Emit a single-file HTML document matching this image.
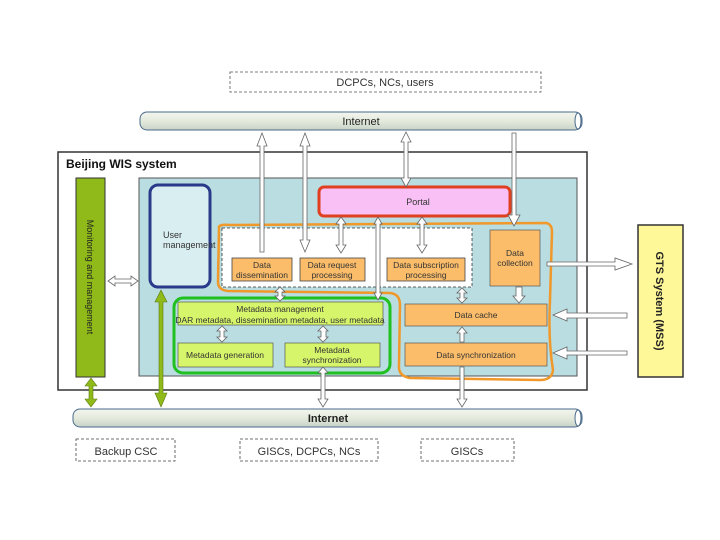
<!DOCTYPE html>
<html><head><meta charset="utf-8"><style>
html,body{margin:0;padding:0;background:#fff;}
svg{display:block;font-family:"Liberation Sans",sans-serif;}
</style></head><body>
<svg width="720" height="540" viewBox="0 0 720 540" xmlns="http://www.w3.org/2000/svg">
<defs>
<linearGradient id="tube" x1="0" y1="0" x2="0" y2="1">
<stop offset="0" stop-color="#f4f6f0"/><stop offset="0.5" stop-color="#e4eadc"/><stop offset="1" stop-color="#c8d2c8"/>
</linearGradient>
</defs>
<!-- top dashed box -->
<rect x="230" y="72" width="311" height="20" fill="#fff" stroke="#555" stroke-dasharray="3,2" stroke-width="0.8"/>
<text x="385" y="86" font-size="11" text-anchor="middle" fill="#333">DCPCs, NCs, users</text>
<!-- top internet -->
<rect x="140" y="112" width="442" height="18" rx="7" fill="url(#tube)" stroke="#4a6a8a" stroke-width="1"/>
<ellipse cx="578" cy="121" rx="3" ry="8" fill="#fff" stroke="#4a6a8a"/>
<text x="361" y="125" font-size="11" text-anchor="middle" fill="#222">Internet</text>
<!-- outer box -->
<rect x="58" y="152" width="529" height="238" fill="#fff" stroke="#333" stroke-width="1.5"/>
<text x="66" y="168" font-size="12" font-weight="bold" fill="#111">Beijing WIS system</text>
<!-- light blue -->
<rect x="139" y="178" width="438" height="198" fill="#b9dde0" stroke="#555" stroke-width="1"/>
<!-- green bar -->
<rect x="76" y="178" width="29" height="199" fill="#8fba1a" stroke="#333" stroke-width="1"/>
<text transform="translate(87,277) rotate(90)" font-size="9" text-anchor="middle" fill="#222">Monitoring and management</text>
<!-- user management -->
<rect x="150" y="185" width="60" height="102" rx="8" fill="#d8eef0" stroke="#2a3a8a" stroke-width="3"/>
<text x="163" y="238" font-size="9" fill="#333">User</text>
<text x="163" y="248" font-size="9" fill="#333">management</text>
<!-- dashed white box -->
<rect x="222" y="228" width="250" height="59" fill="#fff" stroke="#333" stroke-dasharray="3,2" stroke-width="0.8"/>
<!-- portal -->
<rect x="319" y="187" width="191" height="29" rx="5" fill="#f8c0f4" stroke="#e04020" stroke-width="3"/>
<text x="418" y="205" font-size="9" text-anchor="middle" fill="#333">Portal</text>
<!-- sub boxes -->
<rect x="232" y="258" width="60" height="23" fill="#fbbd6a" stroke="#444" stroke-width="0.8"/>
<text x="262" y="268" font-size="8.5" text-anchor="middle" fill="#333">Data</text>
<text x="262" y="278" font-size="8.5" text-anchor="middle" fill="#333">dissemination</text>
<rect x="300" y="258" width="65" height="23" fill="#fbbd6a" stroke="#444" stroke-width="0.8"/>
<text x="332" y="268" font-size="8.5" text-anchor="middle" fill="#333">Data request</text>
<text x="332" y="278" font-size="8.5" text-anchor="middle" fill="#333">processing</text>
<rect x="387" y="258" width="78" height="23" fill="#fbbd6a" stroke="#444" stroke-width="0.8"/>
<text x="426" y="268" font-size="8.5" text-anchor="middle" fill="#333">Data subscription</text>
<text x="426" y="278" font-size="8.5" text-anchor="middle" fill="#333">processing</text>
<rect x="490" y="230" width="50" height="56" fill="#fbbd6a" stroke="#444" stroke-width="0.6"/>
<text x="515" y="256" font-size="8.5" text-anchor="middle" fill="#333">Data</text>
<text x="515" y="266" font-size="8.5" text-anchor="middle" fill="#333">collection</text>
<!-- data cache / sync -->
<rect x="405" y="304" width="142" height="22" fill="#fbbd6a" stroke="#444" stroke-width="0.6"/>
<text x="476" y="318" font-size="8.5" text-anchor="middle" fill="#333">Data cache</text>
<rect x="405" y="343" width="142" height="23" fill="#fbbd6a" stroke="#444" stroke-width="0.6"/>
<text x="476" y="358" font-size="8.5" text-anchor="middle" fill="#333">Data synchronization</text>
<!-- green group -->
<rect x="174" y="298" width="216" height="75" rx="9" fill="none" stroke="#20c020" stroke-width="3"/>
<rect x="178" y="302" width="205" height="23" fill="#d6f56a" stroke="#444" stroke-width="0.6"/>
<text x="280" y="312" font-size="8.5" text-anchor="middle" fill="#333">Metadata management</text>
<text x="280" y="323" font-size="8.5" text-anchor="middle" fill="#333">DAR metadata, dissemination metadata, user metadata</text>
<rect x="178" y="343" width="95" height="24" fill="#d6f56a" stroke="#444" stroke-width="0.6"/>
<text x="225" y="358" font-size="8.5" text-anchor="middle" fill="#333">Metadata generation</text>
<rect x="285" y="343" width="95" height="24" fill="#d6f56a" stroke="#444" stroke-width="0.6"/>
<text x="332" y="353" font-size="8.5" text-anchor="middle" fill="#333">Metadata</text>
<text x="332" y="363" font-size="8.5" text-anchor="middle" fill="#333">synchronization</text>
<!-- orange outline -->
<path d="M219 228 Q218 224 230 225 L546 223 Q552 224 552 232 L550 300 Q548 340 553 370 Q552 380 540 380 L410 378 Q398 376 399 365 L400 305 Q400 294 390 293 L228 291 Q218 290 218 282 Z" fill="none" stroke="#f0982a" stroke-width="2.5"/>
<!-- GTS -->
<rect x="638" y="225" width="45" height="152" fill="#fff899" stroke="#333" stroke-width="1.5"/>
<text transform="translate(656,301) rotate(90)" font-size="11" font-weight="bold" text-anchor="middle" fill="#222">GTS System (MSS)</text>
<!-- arrows -->
<g fill="#fff" stroke="#666" stroke-width="0.8">
<!-- top internet to dissemination -->
<path d="M262 133 L257 146 L260 146 L260 252 L264 252 L264 146 L267 146 Z"/>
<path d="M305 133 L300 146 L303 146 L303 240 L300 240 L305 252 L310 240 L307 240 L307 146 L310 146 Z"/>
<path d="M406 132 L401 142 L404 142 L404 178 L401 178 L406 187 L411 178 L408 178 L408 142 L411 142 Z"/>
<path d="M512 133 L516 133 L516 215 L520 215 L514 226 L508 215 L512 215 Z"/>
<!-- portal to subs -->
<path d="M341 217 L336 224 L339 224 L339 245 L336 245 L341 253 L346 245 L343 245 L343 224 L346 224 Z"/>
<path d="M378 217 L374 224 L376 224 L376 293 L374 293 L378 300 L382 293 L380 293 L380 224 L382 224 Z"/>
<path d="M422 217 L417 224 L420 224 L420 245 L417 245 L422 253 L427 245 L424 245 L424 224 L427 224 Z"/>
<!-- to cache -->
<path d="M516 287 L522 287 L522 296 L525 296 L519 303 L513 296 L516 296 Z"/>
<path d="M462 288 L457 293 L460 293 L460 298 L457 298 L462 303 L467 298 L464 298 L464 293 L467 293 Z"/>
<path d="M280 287 L275 292 L278 292 L278 296 L275 296 L280 301 L285 296 L282 296 L282 292 L285 292 Z"/>
<path d="M222 326 L217 331 L220 331 L220 337 L217 337 L222 342 L227 337 L224 337 L224 331 L227 331 Z"/>
<path d="M323 326 L318 331 L321 331 L321 337 L318 337 L323 342 L328 337 L326 337 L326 331 L328 331 Z"/>
<path d="M462 327 L457 333 L460 333 L460 342 L464 342 L464 333 L467 333 Z"/>
<!-- to bottom internet -->
<path d="M323 367 L318 373 L321 373 L321 399 L318 399 L323 407 L328 399 L325 399 L325 373 L328 373 Z"/>
<path d="M460 367 L464 367 L464 399 L467 399 L462 407 L457 399 L460 399 Z"/>
<!-- left double arrow -->
<path d="M108 281 L115 276 L115 279 L131 279 L131 276 L138 281 L131 286 L131 283 L115 283 L115 286 Z"/>
<!-- GTS arrows -->
<path d="M547 262 L615 262 L615 258 L632 264 L615 270 L615 266 L547 266 Z"/>
<path d="M553 315 L567 309 L567 313 L627 313 L627 318 L567 318 L567 321 Z"/>
<path d="M553 353 L567 347 L567 351 L627 351 L627 355 L567 355 L567 359 Z"/>
</g>
<!-- green arrows -->
<g fill="#8fba1a" stroke="#5a7a10" stroke-width="0.6">
<path d="M91 378 L85 386 L89 386 L89 399 L85 399 L91 407 L97 399 L93 399 L93 386 L97 386 Z"/>
<path d="M161 290 L155 302 L159 302 L159 393 L155 393 L161 407 L167 393 L163 393 L163 302 L167 302 Z"/>
</g>
<!-- bottom internet -->
<rect x="73" y="409" width="509" height="18" rx="7" fill="url(#tube)" stroke="#4a6a8a" stroke-width="1"/>
<ellipse cx="578" cy="418" rx="3" ry="8" fill="#fff" stroke="#4a6a8a"/>
<text x="328" y="422" font-size="11" font-weight="bold" text-anchor="middle" fill="#222">Internet</text>
<!-- bottom boxes -->
<g fill="#fff" stroke="#444" stroke-dasharray="3,2" stroke-width="0.8">
<rect x="76" y="439" width="99" height="22"/>
<rect x="240" y="439" width="138" height="22"/>
<rect x="421" y="439" width="93" height="22"/>
</g>
<g font-size="11" text-anchor="middle" fill="#333">
<text x="126" y="455">Backup CSC</text>
<text x="309" y="455">GISCs, DCPCs, NCs</text>
<text x="467" y="455">GISCs</text>
</g>
</svg>
</body></html>
